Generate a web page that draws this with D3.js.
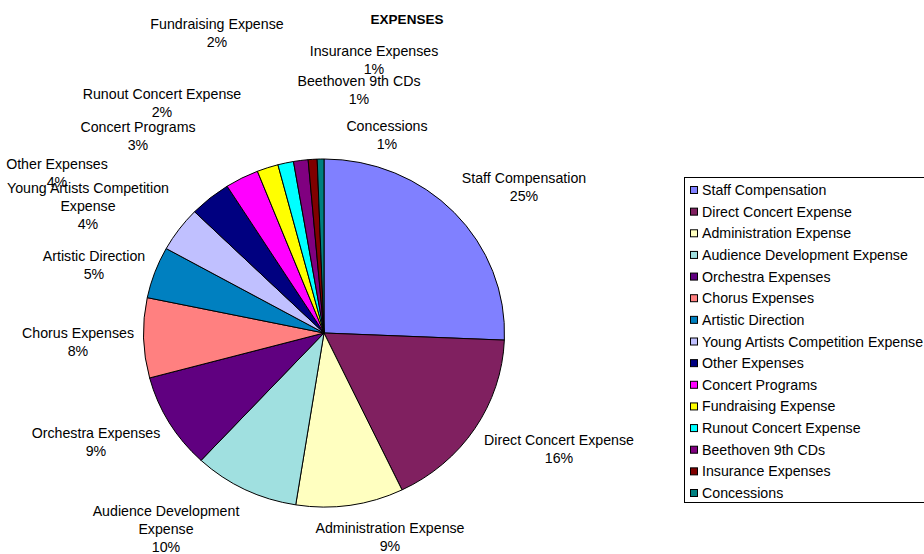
<!DOCTYPE html>
<html>
<head>
<meta charset="utf-8">
<script src="https://cdn.jsdelivr.net/npm/d3@7"></script>
<style>
  html, body { margin: 0; padding: 0; background: #fff; }
  svg { display: block; font-family: "Liberation Sans", Arial, sans-serif; }
</style>
</head>
<body>
<svg id="chart" width="924" height="554"></svg>
<script>
// ---- data ----
const categories = [
  "Staff Compensation", "Direct Concert Expense", "Administration Expense",
  "Audience Development Expense", "Orchestra Expenses", "Chorus Expenses",
  "Artistic Direction", "Young Artists Competition Expense", "Other Expenses",
  "Concert Programs", "Fundraising Expense", "Runout Concert Expense",
  "Beethoven 9th CDs", "Insurance Expenses", "Concessions"
];
const values = [25.6, 17.2, 9.6, 9.4, 8.9, 7.4, 4.8, 4.2, 3.7, 3.0, 1.9, 1.4, 1.3, 0.8, 0.6];
const pctLabels = ["25%", "16%", "9%", "10%", "9%", "8%", "5%", "4%", "4%", "3%", "2%", "2%", "1%", "1%", "1%"];
const colors = [
  "#8080FF", "#802060", "#FFFFC0", "#A0E0E0", "#600080", "#FF8080",
  "#0080C0", "#C0C0FF", "#000080", "#FF00FF", "#FFFF00", "#00FFFF",
  "#800080", "#800000", "#008080"
];
// label text lines (wrapping as in the reference)
const labelLines = [
  ["Staff Compensation"], ["Direct Concert Expense"], ["Administration Expense"],
  ["Audience Development", "Expense"], ["Orchestra Expenses"], ["Chorus Expenses"],
  ["Artistic Direction"], ["Young Artists Competition", "Expense"], ["Other Expenses"],
  ["Concert Programs"], ["Fundraising Expense"], ["Runout Concert Expense"],
  ["Beethoven 9th CDs"], ["Insurance Expenses"], ["Concessions"]
];
// ---- layout (label anchor: center x, first-line center y) ----
const labelAnchors = [
  [524, 178], [559, 440], [390, 528], [166, 511], [96, 433], [78, 333],
  [94, 256], [88, 188], [57, 164], [138, 127], [217, 24], [162, 94],
  [359, 81], [374, 51], [387, 126]
];

const svg = d3.select("#chart");
const cx = 324, cy = 333, rx = 180.5, ry = 174;
const lineH = 18;
const fs = 14.2;

// title
svg.append("text")
  .attr("x", 407).attr("y", 19)
  .attr("text-anchor", "middle").attr("dominant-baseline", "central")
  .attr("font-size", 13.5).attr("font-weight", "bold")
  .text("EXPENSES");

// pie
const pie = d3.pie().sort(null).value(d => d).startAngle(0).endAngle(2 * Math.PI);
const arcs = pie(values);
const arc = d3.arc().innerRadius(0).outerRadius(rx);

const g = svg.append("g")
  .attr("transform", `translate(${cx},${cy}) scale(1,${ry / rx})`);
g.selectAll("path")
  .data(arcs)
  .join("path")
  .attr("d", arc)
  .attr("fill", (d, i) => colors[i])
  .attr("stroke", "#000")
  .attr("stroke-width", 1)
  .attr("vector-effect", "non-scaling-stroke");

// data labels
const lg = svg.append("g").attr("font-size", fs).attr("fill", "#000");
categories.forEach((c, i) => {
  const lines = labelLines[i].concat([pctLabels[i]]);
  const t = lg.append("text")
    .attr("text-anchor", "middle")
    .attr("dominant-baseline", "central");
  lines.forEach((ln, k) => {
    t.append("tspan")
      .attr("x", labelAnchors[i][0])
      .attr("y", labelAnchors[i][1] + k * lineH)
      .text(ln);
  });
});

// legend
const legX = 684, legY = 177, legW = 260, legH = 325;
const leg = svg.append("g");
leg.append("rect")
  .attr("x", legX + 0.5).attr("y", legY + 0.5)
  .attr("width", legW).attr("height", legH)
  .attr("fill", "#fff").attr("stroke", "#000").attr("stroke-width", 1);
const ly = d3.scalePoint().domain(categories).range([190, 493]);
const items = leg.selectAll("g.item")
  .data(categories)
  .join("g").attr("class", "item")
  .attr("transform", d => `translate(0,${ly(d)})`);
items.append("rect")
  .attr("x", 690.5).attr("y", -3.5)
  .attr("width", 7).attr("height", 7)
  .attr("fill", (d, i) => colors[i])
  .attr("stroke", "#000").attr("stroke-width", 1);
items.append("text")
  .attr("x", 702).attr("y", 0)
  .attr("dominant-baseline", "central")
  .attr("font-size", fs)
  .text(d => d);
</script>
</body>
</html>
